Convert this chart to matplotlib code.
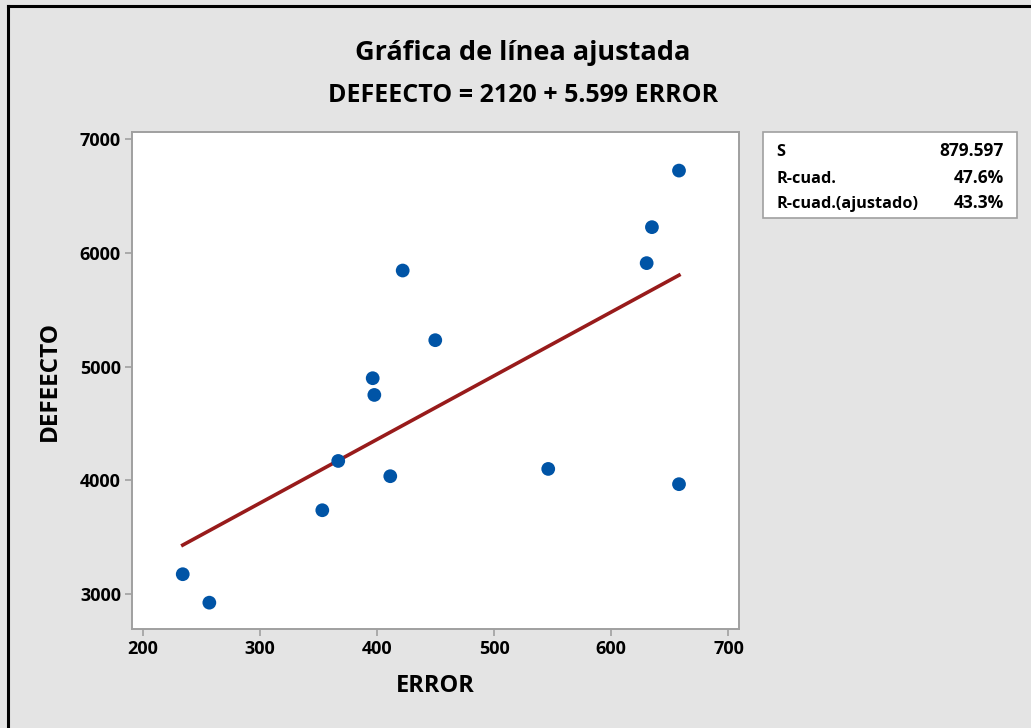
import matplotlib
matplotlib.use("Agg")
import matplotlib.pyplot as plt
from matplotlib.patches import Rectangle
from matplotlib.lines import Line2D
import numpy as np

plt.rcParams['font.family'] = ['Open Sans', 'DejaVu Sans']

# Observations
error = [234.3, 257.0, 353.4, 367.0, 396.4, 397.8, 411.4, 422.0, 449.8,
         546.2, 630.2, 634.7, 657.8, 657.8]
defecto = [3176, 2926, 3738, 4171, 4898, 4751, 4037, 5844, 5232,
           4101, 5909, 6225, 6722, 3967]

# Fitted model
intercept = 2120
slope = 5.599
stat_names = ["S", "R-cuad.", "R-cuad.(ajustado)"]
stat_values = ["879.597", "47.6%", "43.3%"]

x_ticks = [200, 300, 400, 500, 600, 700]
y_ticks = [3000, 4000, 5000, 6000, 7000]

W, H = 1031, 728
bg = "#e4e4e4"
fig = plt.figure(figsize=(W / 100, H / 100), dpi=100, facecolor=bg)

# outer frame lines (top and left)
fig.add_artist(Line2D([8 / W, 1], [1 - 5.5 / H, 1 - 5.5 / H], color="black", lw=2.2,
                      transform=fig.transFigure))
fig.add_artist(Line2D([8 / W, 8 / W], [0, 1 - 5.5 / H], color="black", lw=2.2,
                      transform=fig.transFigure))

ax = fig.add_axes([132 / W, 1 - 629.3 / H, (739 - 132) / W, (629.3 - 132) / H])
ax.set_facecolor("white")

xs = np.array([min(error), max(error)])
ax.plot(xs, intercept + slope * xs, color="#981b1b", lw=2.6, zorder=2)
ax.scatter(error, defecto, s=98, color="#0054a6", edgecolors="none", zorder=3)

ax.set_xlim(191, 709)
ax.set_ylim(2692, 7061)
ax.set_xticks(x_ticks)
ax.set_yticks(y_ticks)
ax.set_xticklabels([str(v) for v in x_ticks], fontsize=13, fontweight="bold")
ax.set_yticklabels([str(v) for v in y_ticks], fontsize=13, fontweight="bold")
for s in ax.spines.values():
    s.set_color("#a0a0a0")
    s.set_linewidth(1.4)
ax.tick_params(direction="out", length=5, width=1.2, color="#a0a0a0", pad=3,
               labelcolor="black")

ax.set_xlabel("ERROR", fontsize=17, fontweight="bold", labelpad=11)
ax.set_ylabel("DEFEECTO", fontsize=17.5, fontweight="bold", labelpad=13)

fig.text(523 / W, 1 - 53 / H, "Gráfica de línea ajustada", ha="center", va="center",
         fontsize=19.5, fontweight="bold")
fig.text(523 / W, 1 - 95 / H, f"DEFEECTO = {intercept} + {slope} ERROR", ha="center",
         va="center", fontsize=18, fontweight="bold")

# statistics box
fig.add_artist(Rectangle((763 / W, 1 - 218 / H), (1016.5 - 763) / W, (218 - 132) / H,
                         transform=fig.transFigure, facecolor="white",
                         edgecolor="#a0a0a0", lw=1.2))
row_base = [156.5, 183, 208]
for name, val, yb in zip(stat_names, stat_values, row_base):
    fig.text(776 / W, 1 - yb / H, name, ha="left", va="baseline", fontsize=11.7,
             fontweight="bold")
    fig.text(1003.5 / W, 1 - yb / H, val, ha="right", va="baseline", fontsize=12.5,
             fontweight="bold")

fig.savefig("out.png", dpi=100, facecolor=bg)
